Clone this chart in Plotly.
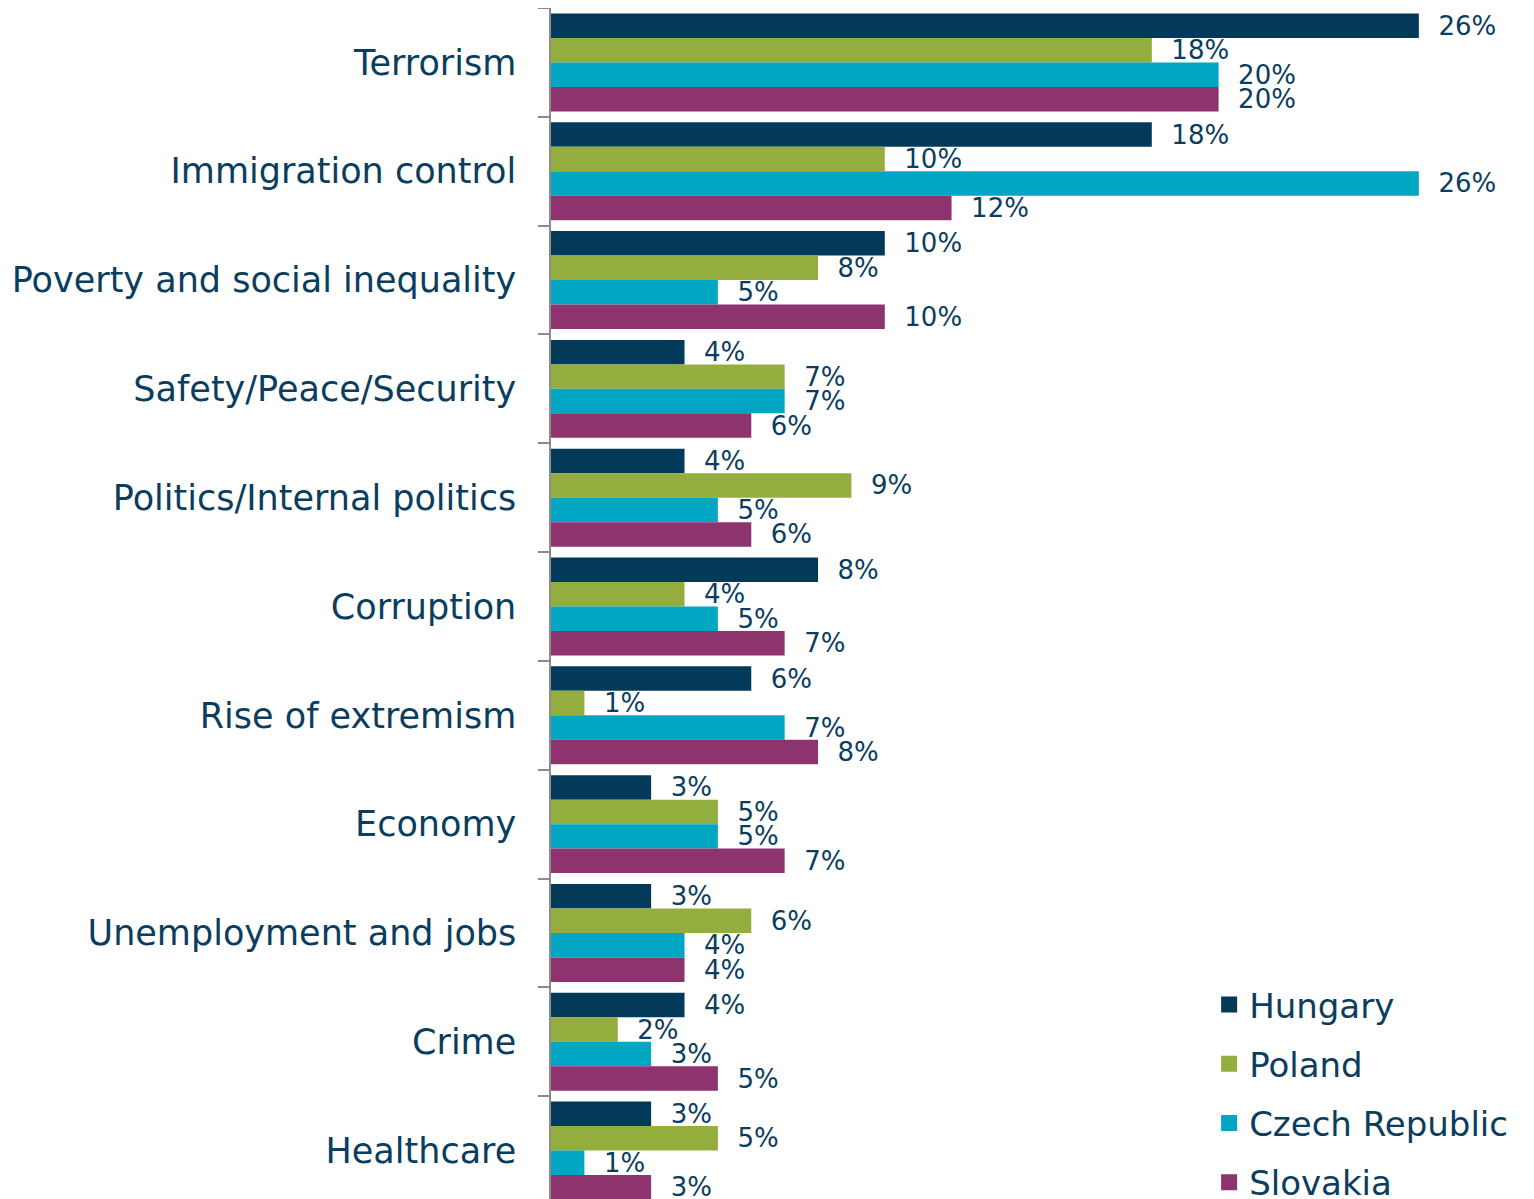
import plotly.graph_objects as go

categories = ["Terrorism", "Immigration control", "Poverty and social inequality",
              "Safety/Peace/Security", "Politics/Internal politics", "Corruption",
              "Rise of extremism", "Economy", "Unemployment and jobs", "Crime", "Healthcare"]
hungary = [26, 18, 10, 4, 4, 8, 6, 3, 3, 4, 3]
poland = [18, 10, 8, 7, 9, 4, 1, 5, 6, 2, 5]
czech = [20, 26, 5, 7, 5, 5, 7, 5, 4, 3, 1]
slovakia = [20, 12, 10, 6, 6, 7, 8, 7, 4, 5, 3]

series = [("Hungary", hungary, "#033A5A"), ("Poland", poland, "#93AE3E"),
          ("Czech Republic", czech, "#01A7C2"), ("Slovakia", slovakia, "#8D336D")]

FONT = "DejaVu Sans, Verdana, sans-serif"
TXT = "#0B3D5E"

fig = go.Figure()
for name, vals, col in series:
    fig.add_trace(go.Bar(
        y=categories, x=vals, orientation="h", name=name,
        marker=dict(color=col, line=dict(width=0)),
        text=["\u00a0\u00a0" + f"{v}%" for v in vals],
        textposition="outside", constraintext="none", cliponaxis=False,
        textfont=dict(family=FONT, size=26, color=TXT),
        showlegend=False,
    ))
for i, (name, vals, col) in enumerate(series):
    fig.add_trace(go.Scatter(
        x=[None], y=[None], mode="markers", name=name,
        marker=dict(symbol="square", size=20, color=col),
        legendgroup=f"g{i}", showlegend=True,
    ))

fig.update_layout(
    width=1518, height=1206,
    margin=dict(l=543, r=0, t=0, b=9),
    paper_bgcolor="white", plot_bgcolor="white",
    barmode="group", bargap=0.10, bargroupgap=0,
    font=dict(family=FONT, color=TXT),
    legend=dict(x=0.675, y=-0.005, xanchor="left", yanchor="bottom",
                font=dict(family=FONT, size=34, color=TXT),
                traceorder="grouped", tracegroupgap=12,
                itemwidth=30, bgcolor="rgba(0,0,0,0)"),
    xaxis=dict(range=[0, 29.21], visible=False, showgrid=False, zeroline=False),
    yaxis=dict(autorange="reversed", showline=True, linecolor="#8C8C8C", linewidth=1.5,
               ticks="outside", tickson="boundaries", ticklen=11, tickcolor="#8C8C8C",
               tickwidth=1.5, ticklabelstandoff=26,
               tickfont=dict(family=FONT, size=35, color=TXT), showgrid=False),
)
fig.write_html("out.html")
